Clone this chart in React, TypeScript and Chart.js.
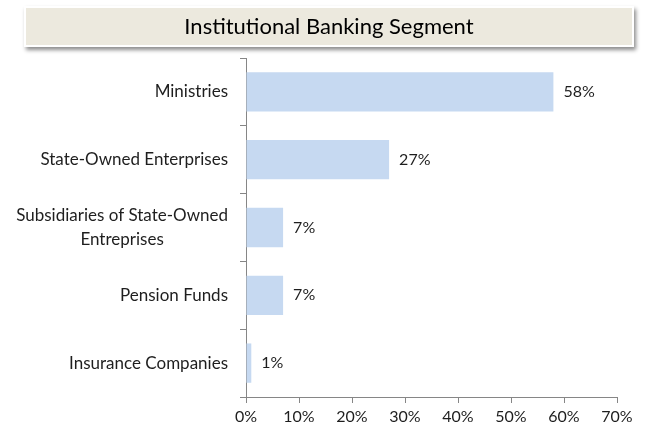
import React, { useEffect, useRef } from "react";
import { Chart, registerables } from "chart.js";

Chart.register(...registerables);

const TITLE = "Institutional Banking Segment";
const categories: (string | string[])[] = [
  "Ministries",
  "State-Owned Enterprises",
  ["Subsidiaries of State-Owned", "Entreprises"],
  "Pension Funds",
  "Insurance Companies",
];
const values = [58, 27, 7, 7, 1];
const xMin = 0;
const xMax = 70;
const xStep = 10;

const FONT = "Lato, 'Open Sans', sans-serif";
const TEXT = "#1e1e1e";
const AXIS = "#868686";
const BAR = "#C6D9F1";

const titlePlugin = {
  id: "titleBox",
  beforeDraw(chart: any) {
    const ctx = chart.ctx;
    ctx.save();
    ctx.shadowColor = "rgba(0,0,0,0.45)";
    ctx.shadowBlur = 4;
    ctx.shadowOffsetX = 2;
    ctx.shadowOffsetY = 3;
    ctx.fillStyle = "#ffffff";
    ctx.fillRect(24, 6, 610, 41);
    ctx.restore();
    ctx.save();
    ctx.fillStyle = "#ECE9DE";
    ctx.fillRect(26, 8, 606, 37);
    ctx.fillStyle = "#000000";
    ctx.font = `22px ${FONT}`;
    ctx.textAlign = "center";
    ctx.textBaseline = "middle";
    ctx.fillText(TITLE, 329, 27);
    ctx.restore();
  },
};

const labelsPlugin = {
  id: "customLabels",
  afterDraw(chart: any) {
    const ctx = chart.ctx;
    const yScale = chart.scales.y;
    const meta = chart.getDatasetMeta(0);
    ctx.save();
    ctx.font = `17px ${FONT}`;
    ctx.fillStyle = TEXT;
    ctx.textBaseline = "middle";
    // category labels
    categories.forEach((cat, i) => {
      const y = yScale.getPixelForTick(i);
      const lines = Array.isArray(cat) ? cat : [cat];
      const widths = lines.map((l) => ctx.measureText(l).width);
      const maxW = Math.max(...widths);
      const right = yScale.right - 18;
      const cx = right - maxW / 2;
      const lh = 24;
      const y0 = y - ((lines.length - 1) * lh) / 2;
      ctx.textAlign = "center";
      lines.forEach((l, k) => ctx.fillText(l, cx, y0 + k * lh));
    });
    // value labels
    ctx.font = `16px ${FONT}`;
    ctx.textAlign = "left";
    meta.data.forEach((bar: any, i: number) => {
      ctx.fillText(values[i] + "%", bar.x + 10, bar.y);
    });
    ctx.restore();
  },
};

export default function App() {
  const ref = useRef<HTMLCanvasElement>(null);
  useEffect(() => {
    if (!ref.current) return;
    const chart = new Chart(ref.current, {
      type: "bar",
      data: {
        labels: categories as any,
        datasets: [
          {
            data: values,
            backgroundColor: BAR,
            borderWidth: 0,
            barPercentage: 0.58,
            categoryPercentage: 1,
          },
        ],
      },
      options: {
        indexAxis: "y",
        animation: false,
        responsive: false,
        devicePixelRatio: 1,
        layout: { padding: { top: 58, left: 0, right: 39, bottom: 0 } },
        plugins: { legend: { display: false }, tooltip: { enabled: false }, title: { display: false } },
        scales: {
          x: {
            min: xMin,
            max: xMax,
            ticks: {
              stepSize: xStep,
              color: TEXT,
              font: { family: FONT, size: 16 },
              padding: 4,
              callback: (v: any) => v + "%",
            },
            grid: { drawOnChartArea: false, drawTicks: true, tickLength: 6, color: AXIS },
            border: { color: AXIS, width: 1 },
            afterFit: (s: any) => {
              s.height = 49;
            },
          },
          y: {
            ticks: { display: false },
            grid: { drawOnChartArea: false, drawTicks: true, tickLength: 6, color: AXIS, offset: true },
            border: { color: AXIS, width: 1 },
            afterFit: (s: any) => {
              s.width = 246;
            },
          },
        },
      },
      plugins: [titlePlugin, labelsPlugin],
    });
    return () => chart.destroy();
  }, []);
  return (
    <div style={{ position: "fixed", left: 0, top: 0, width: 656, height: 446, background: "#fff" }}>
      <canvas ref={ref} width={656} height={446} style={{ width: 656, height: 446, display: "block" }} />
    </div>
  );
}
